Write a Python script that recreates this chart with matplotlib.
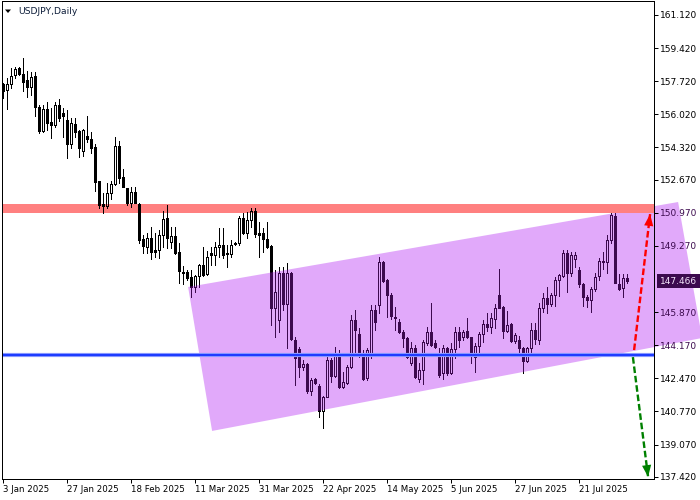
from pathlib import Path

import matplotlib

matplotlib.use("Agg")

import matplotlib.pyplot as plt
import numpy as np
from matplotlib.collections import LineCollection, PatchCollection
from matplotlib.patches import Polygon, Rectangle
from matplotlib.path import Path as MplPath
from matplotlib.transforms import blended_transform_factory


OUTPUT_PATH = Path("out.png")
FIG_W, FIG_H = 700, 500

TITLE = "USDJPY,Daily"

# daily candles (bar 0 = 3 Jan 2025)
OPEN = [
    157.56, 157.27, 157.59, 158.04, 158.38, 158.08, 157.78, 157.44, 157.99, 156.40,
    155.17, 156.28, 155.64, 155.47, 156.50, 156.10, 155.73, 154.48, 155.51, 155.17,
    154.15, 154.91, 154.74, 154.33, 152.60, 151.40, 151.32, 151.97, 152.43, 154.40,
    152.79, 152.22, 151.46, 152.05, 151.42, 149.62, 149.23, 149.66, 149.06, 149.06,
    149.81, 150.68, 149.48, 149.78, 148.94, 147.94, 147.94, 147.67, 147.17, 147.72,
    148.27, 147.80, 148.89, 148.80, 149.20, 149.31, 148.89, 148.85, 149.43, 149.40,
    150.68, 149.91, 150.60, 151.07, 149.95, 149.91, 149.61, 149.26, 146.06, 145.46,
    147.89, 146.28, 147.89, 144.44, 143.96, 143.04, 143.21, 141.82, 142.44, 142.09,
    140.79, 141.53, 143.41, 142.60, 143.67, 142.01, 142.25, 143.07, 145.46, 144.75,
    143.72, 142.47, 143.79, 145.98, 146.23, 148.46, 147.52, 146.75, 145.63, 145.38,
    144.86, 144.53, 143.24, 144.01, 142.44, 142.90, 144.27, 144.86, 144.27, 143.79,
    142.73, 144.01, 142.76, 143.96, 144.86, 144.58, 144.90, 144.58, 143.58, 144.15,
    144.75, 145.26, 145.12, 145.50, 146.75, 146.15, 144.92, 145.26, 144.40, 144.44,
    144.01, 143.38, 144.01, 144.95, 144.44, 146.06, 146.58, 146.28, 146.75, 147.52,
    147.72, 148.89, 147.86, 148.58, 148.03, 147.30, 146.63, 146.49, 147.04, 147.72,
    148.51, 148.46, 149.57, 150.80, 147.31, 147.09, 147.60,
]
HIGH = [
    157.61, 157.90, 158.41, 158.45, 158.47, 158.90, 158.25, 158.21, 158.21, 156.50,
    156.50, 156.67, 156.33, 156.67, 156.79, 156.33, 156.24, 155.82, 155.82, 155.22,
    155.27, 155.93, 155.13, 154.48, 152.60, 151.97, 152.48, 152.60, 154.87, 154.65,
    153.20, 152.26, 152.31, 152.31, 151.46, 149.83, 149.95, 150.25, 149.92, 150.08,
    151.06, 151.37, 150.25, 150.25, 149.40, 148.24, 148.03, 148.03, 147.77, 148.32,
    149.23, 149.02, 149.23, 149.48, 150.17, 150.17, 149.31, 149.57, 149.48, 150.80,
    150.97, 151.02, 151.20, 151.20, 150.51, 150.17, 150.51, 149.30, 148.03, 148.17,
    148.17, 148.37, 147.94, 144.61, 144.09, 143.41, 143.27, 142.47, 142.47, 142.18,
    141.56, 143.62, 143.50, 144.09, 143.92, 142.81, 143.16, 145.72, 145.98, 145.04,
    143.92, 144.04, 146.23, 146.23, 148.71, 148.51, 147.55, 146.83, 146.15, 145.50,
    144.95, 144.61, 144.35, 144.18, 143.24, 144.44, 145.12, 146.32, 144.44, 144.01,
    144.18, 144.09, 144.27, 145.12, 145.12, 144.95, 145.55, 144.61, 144.27, 144.86,
    145.46, 145.81, 145.81, 146.28, 148.08, 146.18, 145.94, 145.33, 144.78, 144.64,
    144.09, 144.09, 145.30, 145.30, 146.32, 146.83, 147.17, 146.87, 147.66, 147.83,
    149.06, 149.06, 148.97, 148.97, 148.20, 147.35, 146.75, 147.14, 147.89, 148.63,
    148.95, 149.83, 150.94, 150.94, 147.83, 147.83, 147.83,
]
LOW = [
    156.87, 156.28, 157.39, 157.90, 158.04, 157.23, 156.91, 157.01, 155.95, 155.08,
    155.10, 155.22, 154.79, 155.36, 155.69, 154.87, 153.76, 154.28, 154.87, 153.82,
    153.88, 154.59, 154.02, 152.10, 151.23, 150.94, 151.23, 151.67, 152.39, 152.48,
    152.28, 151.37, 151.28, 151.46, 149.40, 148.92, 148.92, 148.58, 148.71, 148.63,
    149.23, 149.14, 149.14, 148.84, 147.35, 147.31, 147.52, 146.66, 146.90, 147.17,
    147.72, 147.75, 148.29, 148.29, 148.71, 148.63, 148.20, 148.71, 149.31, 149.31,
    149.88, 149.66, 150.25, 149.74, 148.71, 148.97, 149.14, 145.21, 144.61, 144.86,
    145.98, 144.01, 144.44, 142.13, 142.55, 142.90, 141.70, 141.61, 142.18, 140.50,
    139.90, 141.50, 142.30, 142.55, 141.96, 141.96, 142.18, 142.99, 143.67, 143.58,
    142.38, 142.38, 143.50, 144.95, 145.81, 147.43, 145.63, 145.50, 144.95, 144.78,
    144.09, 143.50, 143.15, 142.47, 142.30, 142.18, 144.18, 144.13, 144.01, 142.55,
    142.42, 142.64, 142.69, 143.50, 144.09, 144.44, 144.53, 143.24, 142.81, 143.84,
    144.35, 144.92, 144.78, 145.04, 146.06, 144.53, 144.86, 144.35, 144.27, 143.84,
    142.73, 143.32, 143.76, 144.23, 144.23, 145.89, 145.81, 146.18, 146.18, 146.70,
    147.66, 146.92, 147.72, 148.20, 147.14, 146.18, 146.15, 145.89, 146.97, 147.52,
    148.10, 147.89, 149.40, 147.35, 147.00, 146.63, 147.35,
]
CLOSE = [
    157.22, 157.56, 158.00, 158.35, 158.09, 157.70, 157.44, 157.95, 156.41, 155.17,
    156.29, 155.59, 155.47, 156.50, 155.82, 155.95, 154.51, 155.56, 155.13, 154.31,
    155.22, 154.74, 154.31, 152.56, 151.37, 151.33, 152.00, 152.43, 154.40, 152.74,
    152.31, 151.46, 152.05, 151.49, 149.57, 149.28, 149.66, 148.97, 148.97, 149.81,
    150.63, 149.67, 149.78, 148.89, 147.99, 147.86, 147.60, 147.17, 147.72, 148.27,
    147.77, 148.71, 148.80, 149.20, 149.31, 148.80, 148.84, 149.31, 149.37, 150.68,
    149.91, 150.60, 151.07, 149.86, 149.83, 149.61, 149.23, 146.06, 146.92, 147.86,
    146.28, 147.89, 144.47, 143.50, 143.07, 143.21, 141.82, 142.38, 142.22, 140.79,
    141.53, 143.41, 142.60, 143.70, 142.01, 142.27, 143.07, 145.46, 144.95, 143.62,
    142.44, 143.92, 145.98, 145.38, 148.46, 147.48, 146.75, 145.67, 145.58, 144.86,
    144.53, 143.58, 144.01, 142.55, 142.90, 144.35, 144.86, 144.18, 144.06, 142.64,
    144.01, 142.73, 143.96, 144.86, 144.44, 144.86, 144.58, 143.67, 144.15, 144.75,
    145.26, 145.12, 145.55, 146.06, 146.06, 144.92, 145.21, 144.40, 144.69, 144.01,
    143.38, 144.01, 144.95, 144.47, 146.06, 146.58, 146.28, 146.75, 147.52, 147.78,
    148.89, 147.86, 148.80, 148.80, 147.30, 146.63, 146.49, 147.04, 147.66, 148.51,
    148.45, 149.57, 150.85, 147.35, 147.04, 147.60, 147.47,
]

DATE_TICK_BARS = [0, 16, 32, 48, 64, 80, 96, 112, 128, 144]
DATE_TICK_LABELS = [
    "3 Jan 2025", "27 Jan 2025", "18 Feb 2025", "11 Mar 2025", "31 Mar 2025",
    "22 Apr 2025", "14 May 2025", "5 Jun 2025", "27 Jun 2025", "21 Jul 2025",
]
PRICE_TICKS = [
    161.12, 159.42, 157.72, 156.02, 154.32, 152.67, 150.97,
    149.27, 145.87, 144.17, 142.47, 140.77, 139.07, 137.42,
]
LAST_PRICE = 147.466

RESISTANCE_ZONE = (150.97, 151.43)
SUPPORT_LEVEL = 143.67

# corners of the drawn price channel (bar index, price)
CHANNEL_BARS = [46.2, 168.7, 174.7, 52.2]
CHANNEL_PRICES = [147.16, 151.52, 144.54, 139.77]

UP_ARROW_BARS = [157.7, 161.7]
UP_ARROW_PRICES = [143.92, 150.90]
DOWN_ARROW_BARS = [157.4, 161.2]
DOWN_ARROW_PRICES = [143.56, 137.41]

X_LIMITS = (-0.325, 162.675)
Y_LIMITS = (137.303, 161.838)

CHANNEL_COLOR = "#e1a9fa"
CANDLE_IN_CHANNEL = "#3c0a4e"
ZONE_COLOR = "#ff8080"
SUPPORT_COLOR = "#1e3cff"
BODY_HALF = 0.25
PX = 0.72  # one pixel in points


def add_candles(ax, color, zorder, clip_path=None):
    opens = np.asarray(OPEN)
    closes = np.asarray(CLOSE)
    bars = np.arange(len(opens))
    tops = np.maximum(opens, closes)
    bottoms = np.minimum(opens, closes)

    segments = []
    for x, hi, lo, top, bottom in zip(bars, HIGH, LOW, tops, bottoms):
        segments.append([(x, top), (x, hi)])
        segments.append([(x, lo), (x, bottom)])
    wicks = LineCollection(segments, colors=color, linewidths=PX, zorder=zorder,
                           antialiaseds=False)

    bodies = []
    faces = []
    for x, o, c, top, bottom in zip(bars, opens, closes, tops, bottoms):
        bodies.append(Rectangle((x - BODY_HALF, bottom), 2 * BODY_HALF, max(top - bottom, 0.02)))
        faces.append("none" if c > o else color)
    body_collection = PatchCollection(bodies, facecolors=faces, edgecolors=color,
                                      linewidths=PX, zorder=zorder + 0.01,
                                      antialiaseds=False)
    ax.add_collection(wicks)
    ax.add_collection(body_collection)
    if clip_path is not None:
        wicks.set_clip_path(clip_path)
        body_collection.set_clip_path(clip_path)


def add_arrow(ax, bars, prices, color):
    ax.plot(bars, prices, color=color, linewidth=1.7, linestyle=(0, (2.8, 1.2)),
            dash_capstyle="butt", zorder=7)
    ax.annotate(
        "",
        xy=(bars[1], prices[1]),
        xytext=(bars[0], prices[0]),
        arrowprops=dict(
            arrowstyle="-|>,head_length=0.85,head_width=0.33",
            mutation_scale=10,
            color=color,
            linewidth=0,
            shrinkA=0,
            shrinkB=0,
        ),
        zorder=8,
    )


def main() -> None:
    plt.rcParams["font.family"] = ["DejaVu Sans"]
    fig = plt.figure(figsize=(FIG_W / 100, FIG_H / 100), dpi=100)
    fig.patch.set_facecolor("white")
    # plot frame: x from 2 to 654 px, y from 1 to 479 px
    ax = fig.add_axes([2 / FIG_W, 21 / FIG_H, 652 / FIG_W, 478 / FIG_H])
    ax.set_xlim(*X_LIMITS)
    ax.set_ylim(*Y_LIMITS)

    channel = Polygon(list(zip(CHANNEL_BARS, CHANNEL_PRICES)), closed=True,
                      facecolor=CHANNEL_COLOR, edgecolor="none", zorder=0.5,
                      clip_on=False)
    ax.add_patch(channel)

    ax.axhspan(*RESISTANCE_ZONE, color=ZONE_COLOR, linewidth=0, zorder=1)

    add_candles(ax, "black", zorder=3)
    add_candles(ax, CANDLE_IN_CHANNEL, zorder=3.5, clip_path=channel)

    ax.axhline(SUPPORT_LEVEL, color="#8c9cff", linewidth=3.0, zorder=5)
    ax.axhline(SUPPORT_LEVEL, color=SUPPORT_COLOR, linewidth=1.5, zorder=5.1)

    add_arrow(ax, UP_ARROW_BARS, UP_ARROW_PRICES, "#ff0000")
    add_arrow(ax, DOWN_ARROW_BARS, DOWN_ARROW_PRICES, "#008000")

    for spine in ax.spines.values():
        spine.set_linewidth(PX)
        spine.set_zorder(9)

    ax.yaxis.tick_right()
    ax.set_yticks(PRICE_TICKS)
    ax.set_yticklabels([f"{v:.3f}" for v in PRICE_TICKS])
    ax.tick_params(axis="y", length=3, width=PX, pad=1.5, labelsize=6.5)
    channel_path = MplPath(list(zip(CHANNEL_BARS, CHANNEL_PRICES)))
    label_bar = X_LIMITS[1] + 2.0
    for value, label in zip(PRICE_TICKS, ax.get_yticklabels()):
        if channel_path.contains_point((label_bar, value)):
            label.set_color(CANDLE_IN_CHANNEL)

    ax.set_xticks(DATE_TICK_BARS)
    ax.set_xticklabels(DATE_TICK_LABELS, ha="left")
    ax.tick_params(axis="x", length=3, width=PX, pad=1.5, labelsize=6.2)

    price_tf = blended_transform_factory(ax.transAxes, ax.transData)
    ax.text(1 + 6 / 652, LAST_PRICE, f"{LAST_PRICE:.3f}", transform=price_tf,
            ha="left", va="center", fontsize=6.5, color="#f4e6fb", zorder=10,
            clip_on=False,
            bbox=dict(boxstyle="square,pad=0.3", facecolor=CANDLE_IN_CHANNEL,
                      edgecolor="none"))

    fig.patches.append(Polygon([(5 / FIG_W, 1 - 9.5 / FIG_H), (11 / FIG_W, 1 - 9.5 / FIG_H),
                                (8 / FIG_W, 1 - 13 / FIG_H)], closed=True,
                               transform=fig.transFigure, facecolor="black",
                               edgecolor="none"))
    fig.text(18 / FIG_W, 1 - 11 / FIG_H, TITLE, ha="left", va="center",
             fontsize=6.7, color="#10203c")

    fig.savefig(OUTPUT_PATH, dpi=100)
    plt.close(fig)


if __name__ == "__main__":
    main()
